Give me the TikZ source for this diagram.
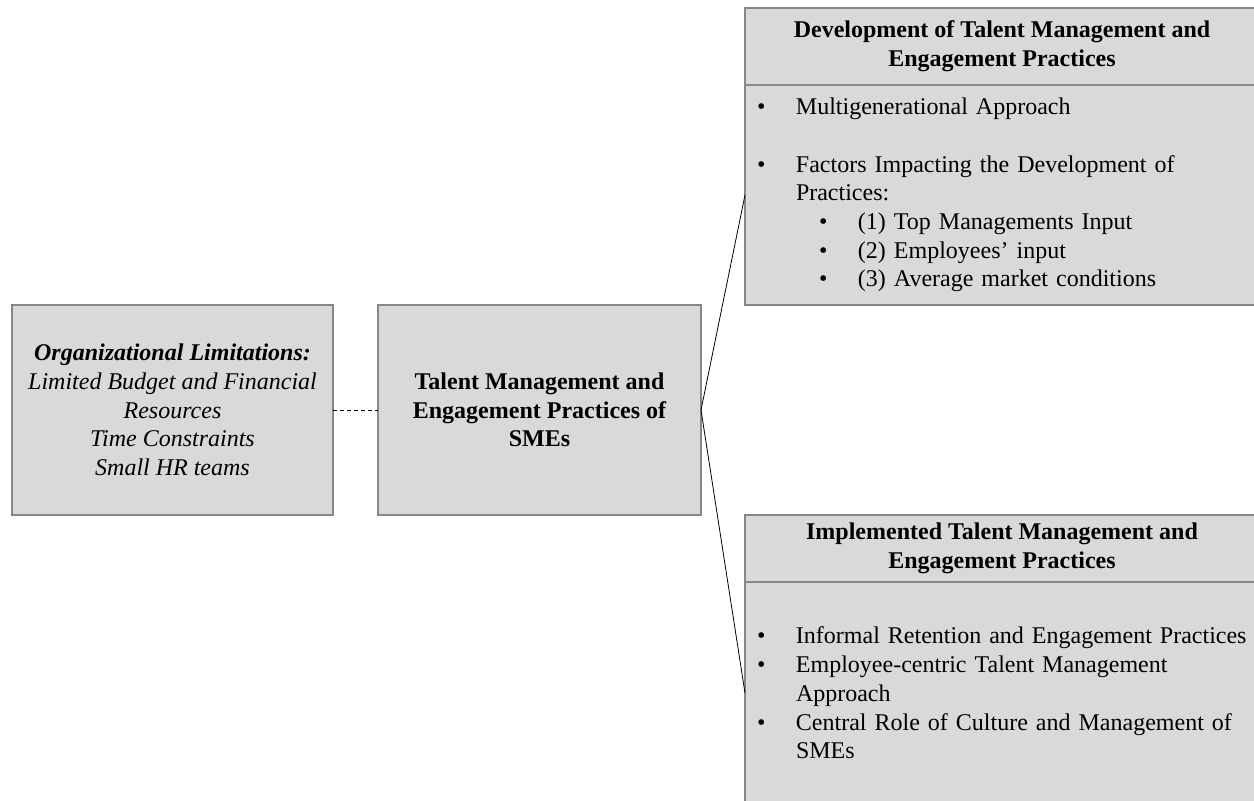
\documentclass[tikz,border=0pt]{standalone}
\usepackage{fontspec}
\setmainfont{Liberation Serif}
\usetikzlibrary{positioning}

\definecolor{boxfill}{RGB}{217,217,217}
\definecolor{boxline}{RGB}{135,135,135}
\newcommand{\bitem}{\makebox[19.5pt][l]{\textbullet}}
\newcommand{\bsub}{\hspace*{31pt}\bitem}

\begin{document}
\begin{tikzpicture}[thick, box/.style={draw=boxline, line width=0.7pt, fill=boxfill, inner sep=0pt, outer sep=0pt, align=center, font=\fontsize{12}{14.35}\selectfont}, body/.style={box, align=left, inner xsep=6pt, text width=252pt, anchor=north west}]
\useasboundingbox (0,0) rectangle (627pt,400.5pt);
\clip (0,0) rectangle (627pt,400.5pt);

\node[box, minimum width=160.5pt, minimum height=105pt] (lim) at (86.25pt,195.5pt)
  {\itshape\bfseries Organizational Limitations:\\ \itshape Limited Budget and Financial\\ \itshape Resources\\ \itshape Time Constraints\\ \itshape Small HR teams};
\node[box, minimum width=161.5pt, minimum height=105pt, right=22.5pt of lim, font=\fontsize{12}{14.35}\selectfont\bfseries] (mid)
  {Talent Management and\\ Engagement Practices of\\ SMEs};

\node[box, minimum width=257pt, minimum height=38.5pt, anchor=north west, font=\fontsize{12}{14.35}\selectfont\bfseries] (devh) at (372.5pt,396.5pt)
  {Development of Talent Management and\\ Engagement Practices};
\node[body, minimum height=110pt] (devb) at (devh.south west)
  {\bitem Multigenerational Approach\\[14.35pt]
   \bitem Factors Impacting the Development of\\
   \hspace*{19.5pt}Practices:\\
   \bsub (1) Top Managements Input\\
   \bsub (2) Employees’ input\\
   \bsub (3) Average market conditions};

\node[box, minimum width=257pt, minimum height=33.5pt, anchor=north west, font=\fontsize{12}{14.35}\selectfont\bfseries] (imph) at (devh.west |- lim.south)
  {Implemented Talent Management and\\ Engagement Practices};
\node[body, minimum height=111pt] (impb) at (imph.south west)
  {\bitem Informal Retention and Engagement Practices\\
   \bitem Employee-centric Talent Management\\
   \hspace*{19.5pt}Approach\\
   \bitem Central Role of Culture and Management of\\
   \hspace*{19.5pt}SMEs};

\draw[thin, dash pattern=on 2pt off 1.5pt] (lim.east)--(mid.west);
\draw[thin] (devb.west)--(mid.east)--(impb.west);

\end{tikzpicture}
\end{document}
